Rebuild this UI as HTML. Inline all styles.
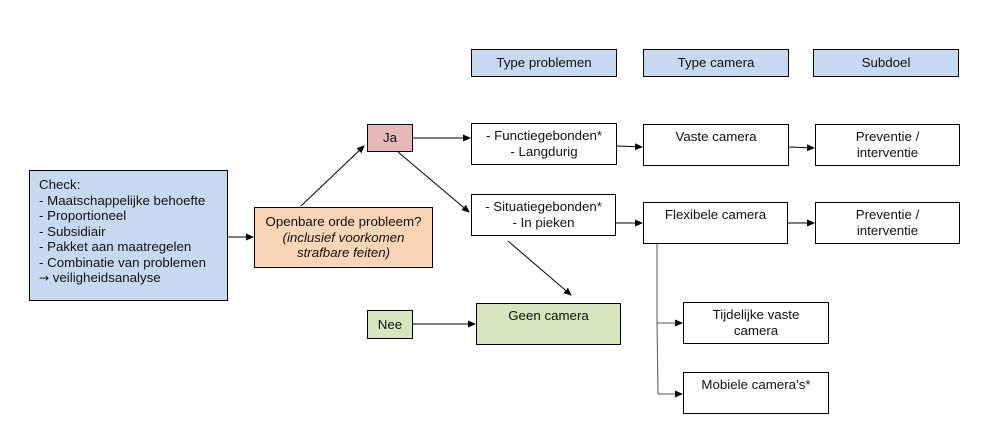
<!DOCTYPE html>
<html><head><meta charset="utf-8"><style>
body{margin:0;width:1008px;height:440px;background:#fff;position:relative;overflow:hidden;font-family:"Liberation Sans",Arial,sans-serif;font-size:13.3px;color:#111}
.b{position:absolute;box-sizing:border-box;border:1.3px solid #000;text-align:center;line-height:15.5px;padding-top:4px;white-space:nowrap}
.h{background:#c6d9f1;padding-top:5px}
svg{position:absolute;left:0;top:0}
</style></head><body>
<svg width="1008" height="440">
<defs><marker id="a" markerWidth="8" markerHeight="8" refX="7" refY="4" orient="auto" markerUnits="userSpaceOnUse"><path d="M0,0.5 L8,4 L0,7.5z" fill="#000"/></marker></defs>
<g stroke="#000" stroke-width="1" fill="none" marker-end="url(#a)">
<line x1="228" y1="237" x2="253" y2="237"/>
<line x1="301" y1="206" x2="364" y2="146"/>
<line x1="413" y1="138" x2="470" y2="138"/>
<line x1="398" y1="152" x2="469" y2="212"/>
<line x1="413" y1="324" x2="475" y2="324"/>
<line x1="508" y1="241" x2="571" y2="295"/>
<line x1="617" y1="146" x2="642" y2="147"/>
<line x1="616" y1="223" x2="642" y2="223"/>
<line x1="789" y1="147" x2="814" y2="148"/>
<line x1="788" y1="223" x2="814" y2="223"/>
<polyline points="657,244 657,323 682,323" stroke="#555"/>
<polyline points="657,320 658,394 682,394" stroke="#555"/>
</g>
</svg>
<div class="b h" style="left:471px;top:49px;width:146px;height:28px">Type problemen</div>
<div class="b h" style="left:643px;top:49px;width:146px;height:28px">Type camera</div>
<div class="b h" style="left:813px;top:49px;width:146px;height:28px">Subdoel</div>
<div class="b" style="left:29px;top:170px;width:199px;height:131px;background:#c6d9f1;text-align:left;padding:6px 0 0 9px">Check:<br>- Maatschappelijke behoefte<br>- Proportioneel<br>- Subsidiair<br>- Pakket aan maatregelen<br>- Combinatie van problemen<br><span style="font-family:'DejaVu Sans';font-size:12px">&#x2192;</span> veiligheidsanalyse</div>
<div class="b" style="left:254px;top:207px;width:179px;height:61px;background:#fbd5b5;padding-top:6px">Openbare orde probleem?<br><i>(inclusief voorkomen<br>strafbare feiten)</i></div>
<div class="b" style="left:367px;top:124px;width:46px;height:28px;background:#e6b9b8;padding-top:5px">Ja</div>
<div class="b" style="left:367px;top:310px;width:46px;height:29px;background:#d7e4bd;padding-top:6px">Nee</div>
<div class="b" style="left:471px;top:123px;width:146px;height:42px">- Functiegebonden*<br>- Langdurig</div>
<div class="b" style="left:471px;top:194px;width:145px;height:42px">- Situatiegebonden*<br>- In pieken</div>
<div class="b" style="left:476px;top:303px;width:145px;height:42px;background:#d7e4bd">Geen camera</div>
<div class="b" style="left:643px;top:124px;width:146px;height:42px">Vaste camera</div>
<div class="b" style="left:643px;top:202px;width:145px;height:42px">Flexibele camera</div>
<div class="b" style="left:815px;top:124px;width:145px;height:42px">Preventie /<br>interventie</div>
<div class="b" style="left:815px;top:202px;width:145px;height:42px">Preventie /<br>interventie</div>
<div class="b" style="left:683px;top:302px;width:146px;height:42px">Tijdelijke vaste<br>camera</div>
<div class="b" style="left:683px;top:372px;width:146px;height:42px">Mobiele camera’s*</div>
</body></html>
